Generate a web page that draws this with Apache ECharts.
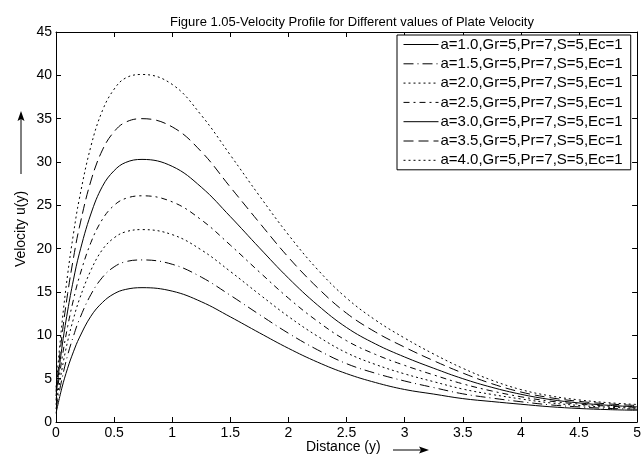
<!DOCTYPE html>
<html>
<head>
<meta charset="utf-8">
<script src="https://cdn.jsdelivr.net/npm/echarts@6/dist/echarts.min.js"></script>
<style>
  html, body { margin: 0; padding: 0; background: #fff; }
  #main { width: 644px; height: 461px; }
</style>
</head>
<body>
<div id="main"></div>
<script>
// distance y along the plate
const xs = [0, 0.05, 0.1, 0.15, 0.2, 0.3, 0.4, 0.5, 0.6, 0.74, 1.0, 1.25, 1.5, 1.75, 2.0, 2.25, 2.5, 2.75, 3.0, 3.25, 3.5, 3.75, 4.0, 4.25, 4.5, 4.75, 5.0];

// velocity u(y), one array per plate velocity a
const u_a10 = [1.0, 3.9, 6.2, 8.1, 9.7, 12.2, 13.8, 14.8, 15.3, 15.5, 15.1, 13.88, 12.13, 10.29, 8.5, 6.91, 5.58, 4.55, 3.75, 3.22, 2.7, 2.36, 2.05, 1.76, 1.56, 1.43, 1.35];
const u_a15 = [1.5, 4.9, 7.7, 9.9, 11.8, 14.7, 16.7, 17.9, 18.5, 18.7, 18.2, 16.72, 14.62, 12.4, 10.24, 8.33, 6.73, 5.62, 4.73, 3.97, 3.25, 2.76, 2.34, 1.98, 1.74, 1.57, 1.47];
const u_a20 = [2.0, 6.0, 9.3, 11.9, 14.1, 17.5, 19.9, 21.25, 21.95, 22.2, 21.62, 19.86, 17.37, 14.73, 12.17, 9.9, 7.99, 6.63, 5.55, 4.65, 3.8, 3.18, 2.66, 2.21, 1.91, 1.71, 1.58];
const u_a25 = [2.5, 7.2, 11.0, 14.1, 16.7, 20.7, 23.4, 25.0, 25.8, 26.1, 25.4, 23.33, 20.41, 17.31, 14.29, 11.62, 9.38, 7.79, 6.53, 5.43, 4.4, 3.58, 2.91, 2.41, 2.07, 1.83, 1.68];
const u_a30 = [3.0, 8.5, 12.8, 16.4, 19.4, 24.0, 27.2, 29.0, 29.95, 30.3, 29.5, 27.1, 23.7, 20.1, 16.6, 13.5, 10.9, 9.0, 7.5, 6.2, 5.0, 4.0, 3.2, 2.6, 2.2, 1.93, 1.75];
const u_a35 = [3.5, 9.8, 14.8, 18.9, 22.4, 27.8, 31.4, 33.5, 34.6, 35.0, 34.05, 31.2, 27.1, 23.0, 19.0, 15.5, 12.55, 10.37, 8.63, 7.07, 5.65, 4.42, 3.46, 2.81, 2.38, 2.09, 1.9];
const u_a40 = [4.0, 11.2, 17.0, 21.7, 25.7, 31.8, 35.95, 38.4, 39.7, 40.1, 38.95, 35.4, 30.8, 26.1, 21.6, 17.6, 14.3, 11.75, 9.68, 7.84, 6.2, 4.82, 3.74, 3.02, 2.55, 2.23, 2.02];

const names = [
  'a=1.0,Gr=5,Pr=7,S=5,Ec=1',
  'a=1.5,Gr=5,Pr=7,S=5,Ec=1',
  'a=2.0,Gr=5,Pr=7,S=5,Ec=1',
  'a=2.5,Gr=5,Pr=7,S=5,Ec=1',
  'a=3.0,Gr=5,Pr=7,S=5,Ec=1',
  'a=3.5,Gr=5,Pr=7,S=5,Ec=1',
  'a=4.0,Gr=5,Pr=7,S=5,Ec=1'
];
const curves = [u_a10, u_a15, u_a20, u_a25, u_a30, u_a35, u_a40];
const dashes = ['solid', [10, 4, 1, 4], [2, 3], [6, 4, 2, 4], 'solid', [10, 5], [2, 3]];

const xTicks = [0, 0.5, 1, 1.5, 2, 2.5, 3, 3.5, 4, 4.5, 5];
const yTicks = [0, 5, 10, 15, 20, 25, 30, 35, 40, 45];

const FONT = 'Liberation Sans';

const chart = echarts.init(document.getElementById('main'));

const series = curves.map((c, i) => ({
  name: names[i],
  type: 'line',
  data: xs.map((x, k) => [x, c[k]]),
  smooth: 0.4,
  symbol: 'none',
  lineStyle: { color: '#000', width: 1, type: dashes[i] },
  itemStyle: { color: '#000' },
  emphasis: { disabled: true },
  animation: false
}));

const axisLine = { show: true, onZero: false, lineStyle: { color: '#000', width: 1 } };
const tick = { show: true, inside: true, length: 5, lineStyle: { color: '#000' } };

chart.setOption({
  backgroundColor: '#fff',
  animation: false,
  title: {
    text: 'Figure 1.05-Velocity Profile for Different values of Plate Velocity',
    left: 347,
    textAlign: 'center',
    top: 11,
    textStyle: { fontFamily: FONT, fontSize: 13, fontWeight: 'normal', color: '#000' }
  },
  grid: { left: 56, right: 5, top: 32, bottom: 39 },
  legend: {
    data: names,
    orient: 'vertical',
    left: 397,
    top: 35,
    backgroundColor: '#fff',
    borderColor: '#000',
    borderWidth: 1,
    borderRadius: 0,
    padding: [2, 8, 2, 6],
    itemWidth: 35,
    itemHeight: 14,
    itemGap: 4.3,
    itemStyle: { opacity: 0 },
    lineStyle: { width: 1, color: '#000' },
    textStyle: { fontFamily: FONT, fontSize: 15, color: '#000', padding: [0, 0, 0, -3] }
  },
  xAxis: [
    {
      type: 'value', min: 0, max: 5, interval: 0.5,
      axisLine, axisTick: tick, splitLine: { show: false },
      axisLabel: { fontFamily: FONT, fontSize: 14, color: '#000', margin: 4,
        formatter: v => (xTicks.includes(v) ? String(v) : '') }
    },
    {
      type: 'value', position: 'top', min: 0, max: 5, interval: 0.5,
      axisLine, axisTick: tick, splitLine: { show: false }, axisLabel: { show: false }
    }
  ],
  yAxis: [
    {
      type: 'value', min: 0, max: 45, interval: 5,
      axisLine, axisTick: tick, splitLine: { show: false },
      axisLabel: { fontFamily: FONT, fontSize: 14, color: '#000', margin: 4,
        formatter: v => (yTicks.includes(v) ? String(v) : '') }
    },
    {
      type: 'value', position: 'right', min: 0, max: 45, interval: 5,
      axisLine, axisTick: tick, splitLine: { show: false }, axisLabel: { show: false }
    }
  ],
  series,
  graphic: [
    {
      type: 'text', x: 21, y: 229, rotation: Math.PI / 2,
      style: { text: 'Velocity u(y)', font: '14px "Liberation Sans"', fill: '#000',
        align: 'center', verticalAlign: 'middle' }
    },
    { type: 'line', shape: { x1: 21, y1: 174, x2: 21, y2: 116 }, style: { stroke: '#000', lineWidth: 1 } },
    { type: 'polygon', shape: { points: [[21, 111], [17.5, 121], [21, 119], [24.5, 121]] }, style: { fill: '#000' } },
    {
      type: 'text', x: 306, y: 447,
      style: { text: 'Distance (y)', font: '14px "Liberation Sans"', fill: '#000', verticalAlign: 'middle' }
    },
    { type: 'line', shape: { x1: 393, y1: 450, x2: 424, y2: 450 }, style: { stroke: '#000', lineWidth: 1 } },
    { type: 'polygon', shape: { points: [[429, 450], [419, 446.5], [421, 450], [419, 453.5]] }, style: { fill: '#000' } }
  ]
});
</script>
</body>
</html>
